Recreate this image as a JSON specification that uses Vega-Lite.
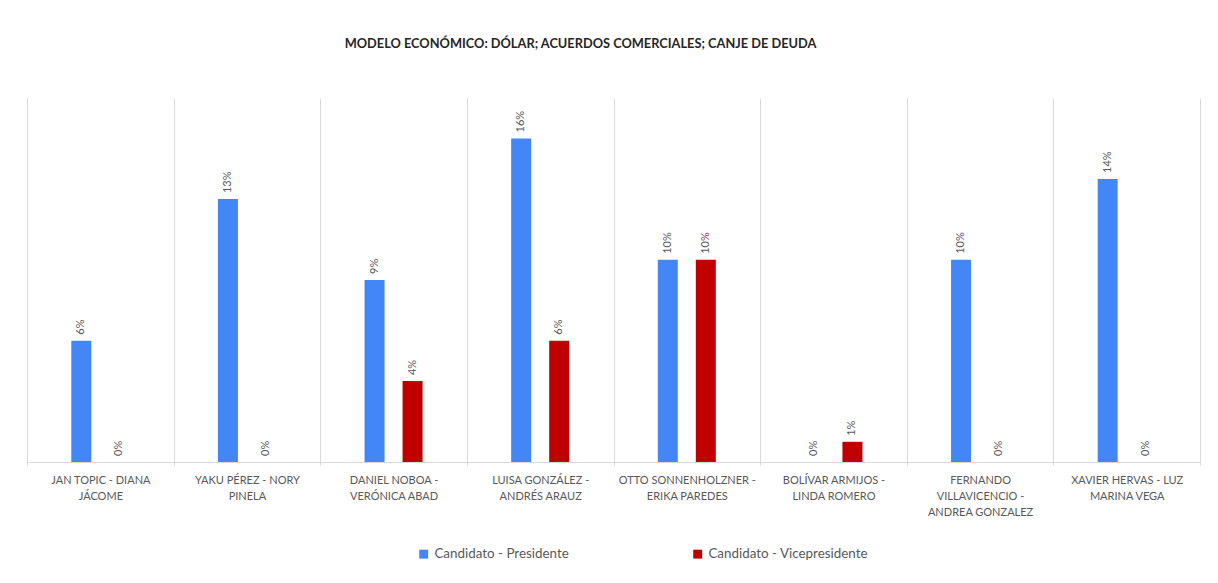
{
  "$schema": "https://vega.github.io/schema/vega-lite/v6.json",
  "width": 1173,
  "height": 364,
  "autosize": {"type": "none"},
  "padding": {"left": 27, "top": 98, "right": 18, "bottom": 121},
  "background": "white",
  "title": {
    "text": "MODELO ECONÓMICO: DÓLAR; ACUERDOS COMERCIALES; CANJE DE DEUDA",
    "fontSize": 12.8,
    "fontWeight": "bold",
    "font": "Lato",
    "color": "#262626",
    "anchor": "middle",
    "dx": -33,
    "offset": 47
  },
  "data": {
    "values": [
      {"candidatos": "JAN TOPIC - DIANA JÁCOME", "cargo": "Candidato - Presidente", "valor": 0.06},
      {"candidatos": "JAN TOPIC - DIANA JÁCOME", "cargo": "Candidato - Vicepresidente", "valor": 0.0},
      {"candidatos": "YAKU PÉREZ - NORY PINELA", "cargo": "Candidato - Presidente", "valor": 0.13},
      {"candidatos": "YAKU PÉREZ - NORY PINELA", "cargo": "Candidato - Vicepresidente", "valor": 0.0},
      {"candidatos": "DANIEL NOBOA - VERÓNICA ABAD", "cargo": "Candidato - Presidente", "valor": 0.09},
      {"candidatos": "DANIEL NOBOA - VERÓNICA ABAD", "cargo": "Candidato - Vicepresidente", "valor": 0.04},
      {"candidatos": "LUISA GONZÁLEZ - ANDRÉS ARAUZ", "cargo": "Candidato - Presidente", "valor": 0.16},
      {"candidatos": "LUISA GONZÁLEZ - ANDRÉS ARAUZ", "cargo": "Candidato - Vicepresidente", "valor": 0.06},
      {"candidatos": "OTTO SONNENHOLZNER - ERIKA PAREDES", "cargo": "Candidato - Presidente", "valor": 0.10},
      {"candidatos": "OTTO SONNENHOLZNER - ERIKA PAREDES", "cargo": "Candidato - Vicepresidente", "valor": 0.10},
      {"candidatos": "BOLÍVAR ARMIJOS - LINDA ROMERO", "cargo": "Candidato - Presidente", "valor": 0.0},
      {"candidatos": "BOLÍVAR ARMIJOS - LINDA ROMERO", "cargo": "Candidato - Vicepresidente", "valor": 0.01},
      {"candidatos": "FERNANDO VILLAVICENCIO - ANDREA GONZALEZ", "cargo": "Candidato - Presidente", "valor": 0.10},
      {"candidatos": "FERNANDO VILLAVICENCIO - ANDREA GONZALEZ", "cargo": "Candidato - Vicepresidente", "valor": 0.0},
      {"candidatos": "XAVIER HERVAS - LUZ MARINA VEGA", "cargo": "Candidato - Presidente", "valor": 0.14},
      {"candidatos": "XAVIER HERVAS - LUZ MARINA VEGA", "cargo": "Candidato - Vicepresidente", "valor": 0.0}
    ]
  },
  "encoding": {
    "x": {
      "field": "candidatos",
      "type": "nominal",
      "sort": null,
      "scale": {"paddingInner": 0, "paddingOuter": 0},
      "axis": {
        "title": null,
        "grid": true,
        "tickBand": "extent",
        "gridColor": "#d9d9d9",
        "domainColor": "#d9d9d9",
        "tickColor": "#d9d9d9",
        "tickSize": 3,
        "labelAngle": 0,
        "labelFontSize": 11,
        "labelFont": "Lato",
        "labelColor": "#595959",
        "labelPadding": 9,
        "labelLineHeight": 16,
        "labelBaseline": "top",
        "labelLimit": 0,
        "labelExpr": "{'JAN TOPIC - DIANA JÁCOME': ['JAN TOPIC - DIANA', 'JÁCOME'], 'YAKU PÉREZ - NORY PINELA': ['YAKU PÉREZ - NORY', 'PINELA'], 'DANIEL NOBOA - VERÓNICA ABAD': ['DANIEL NOBOA -', 'VERÓNICA ABAD'], 'LUISA GONZÁLEZ - ANDRÉS ARAUZ': ['LUISA GONZÁLEZ -', 'ANDRÉS ARAUZ'], 'OTTO SONNENHOLZNER - ERIKA PAREDES': ['OTTO SONNENHOLZNER -', 'ERIKA PAREDES'], 'BOLÍVAR ARMIJOS - LINDA ROMERO': ['BOLÍVAR ARMIJOS -', 'LINDA ROMERO'], 'FERNANDO VILLAVICENCIO - ANDREA GONZALEZ': ['FERNANDO', 'VILLAVICENCIO  -', 'ANDREA GONZALEZ'], 'XAVIER HERVAS - LUZ MARINA VEGA': ['XAVIER HERVAS - LUZ', 'MARINA VEGA']}[datum.label]"
      }
    },
    "xOffset": {
      "field": "cargo",
      "type": "nominal",
      "sort": ["Candidato - Presidente", "Candidato - Vicepresidente"],
      "scale": {"paddingInner": 0, "paddingOuter": 0.929}
    },
    "y": {
      "field": "valor",
      "type": "quantitative",
      "scale": {"domain": [0, 0.18]},
      "axis": null
    }
  },
  "layer": [
    {
      "mark": {"type": "bar", "width": 20},
      "encoding": {
        "color": {
          "field": "cargo",
          "type": "nominal",
          "sort": ["Candidato - Presidente", "Candidato - Vicepresidente"],
          "scale": {"domain": ["Candidato - Presidente", "Candidato - Vicepresidente"], "range": ["#4287f5", "#c00000"]},
          "legend": {
            "orient": "none",
            "legendX": 390,
            "legendY": 449,
            "direction": "horizontal",
            "title": null,
            "symbolType": "square",
            "symbolSize": 80,
            "symbolStrokeWidth": 0,
            "labelFontSize": 13.4,
            "labelFont": "Lato",
            "labelColor": "#595959",
            "labelOffset": 4,
            "columnPadding": 122
          }
        }
      }
    },
    {
      "mark": {"type": "text", "angle": 270, "align": "left", "baseline": "middle", "dx": 6, "fontSize": 11, "font": "Lato", "color": "#595959"},
      "encoding": {
        "text": {"field": "valor", "type": "quantitative", "format": ".0%"}
      }
    }
  ],
  "config": {"view": {"stroke": null}}
}
